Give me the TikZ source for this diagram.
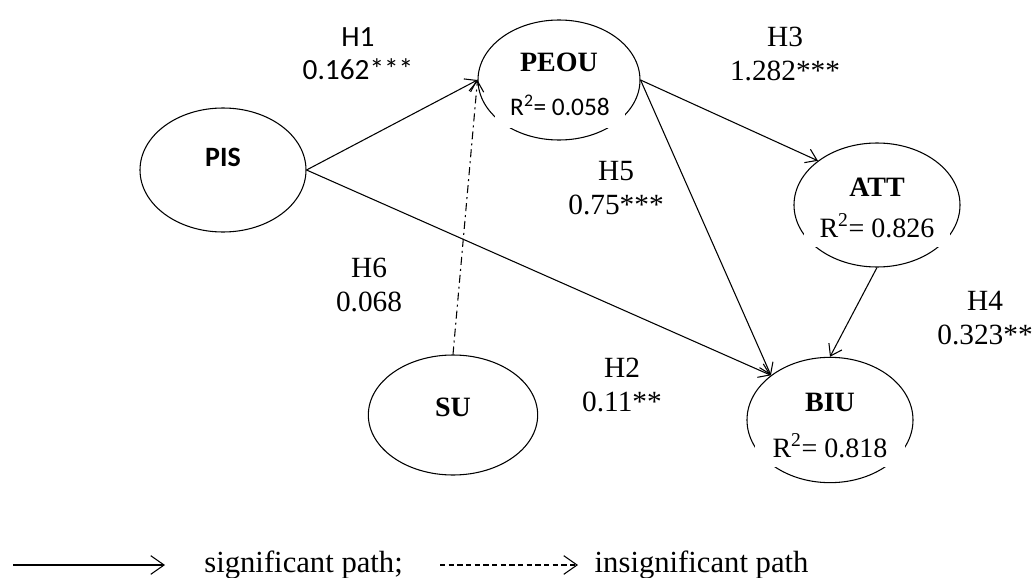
\documentclass[tikz,border=0pt]{standalone}
\usepackage{fontspec}
\setmainfont{Liberation Serif}
\newfontfamily\calibri{Carlito}
\usetikzlibrary{shapes.geometric, arrows.meta, positioning}
\tikzset{
    construct/.style={ellipse, draw, line width=0.8pt, minimum width=124.5pt, minimum height=93pt, align=center, inner sep=0pt, text depth=27pt, font=\bfseries\fontsize{21}{25}\selectfont},
    rsq/.style={fill=white, inner sep=0pt, anchor=base, font=\fontsize{21}{25}\selectfont},
    patharrow/.style={-{Straight Barb[length=8pt, width=11pt]}, line width=0.8pt},
    insigarrow/.style={patharrow, dash pattern=on 6pt off 3pt on 1.5pt off 3pt},
    coef/.style={align=center, font=\fontsize{22}{26}\selectfont},
    legendarrow/.style={-{Straight Barb[length=10pt, width=14pt]}, line width=0.8pt},
    legendtext/.style={font=\fontsize{23}{27}\selectfont}
}

\begin{document}
\begin{tikzpicture}[x=0.75pt, y=-0.75pt]
\useasboundingbox (0,0) rectangle (1033,578);

% constructs
\node[construct, text depth=19.5pt, font=\calibri\bfseries\fontsize{21}{25}\selectfont] (pis) at (223,170) {PIS};
\node[construct, minimum width=121.5pt, minimum height=90pt] (peou) at (559,80) {PEOU};
\node[construct] (att) at (877,205) {ATT};
\node[construct, minimum width=127pt, minimum height=90pt, text depth=12pt] (su) at (453,415) {SU};
\node[construct, minimum height=94pt] (biu) at (830,420) {BIU};

% r squared
\node[rsq, minimum width=97pt, text depth=10pt, font=\calibri\fontsize{19}{22}\selectfont] (peoursq) at (560,115) {R\textsuperscript{2}= 0.058};
\node[rsq, minimum width=110pt, text depth=7.5pt] (attrsq) at (877,237) {R\textsuperscript{2}= 0.826};
\node[rsq, minimum width=112.5pt, text depth=7.5pt] (biursq) at (830,457) {R\textsuperscript{2}= 0.818};

% paths
\draw[patharrow] (pis.east) -- (peou.west);
\draw[patharrow] (pis.east) -- (biu.north west);
\draw[patharrow] (peou.east) -- (att.north west);
\draw[patharrow] (peou.east) -- (biu.north west);
\draw[patharrow] (att.south) -- (biu.north);
\draw[insigarrow] (su.north) -- (peou.west);

% coefficients
\node[coef, font=\calibri\fontsize{22}{25}\selectfont] (h1) at (358,54) {H1\\0.162***};
\node[coef] (h3) at (785,54) {H3\\1.282***};
\node[coef] (h5) at (616,188) {H5\\0.75***};
\node[coef] (h6) at (369,285) {H6\\0.068};
\node[coef] (h2) at (622,385) {H2\\0.11**};
\node[coef] (h4) at (985,318) {H4\\0.323**};

% legend
\coordinate (sig1) at (13,565);
\coordinate (sig2) at (165,565);
\coordinate (ins1) at (440,565);
\coordinate (ins2) at (578,565);
\draw[legendarrow] (sig1) -- (sig2);
\draw[legendarrow, dash pattern=on 4pt off 2.5pt] (ins1) -- (ins2);
\node[legendtext, right=26pt of sig2] (sigtext) {significant path;};
\node[legendtext, right=9pt of ins2] (instext) {insignificant path};

\end{tikzpicture}
\end{document}
